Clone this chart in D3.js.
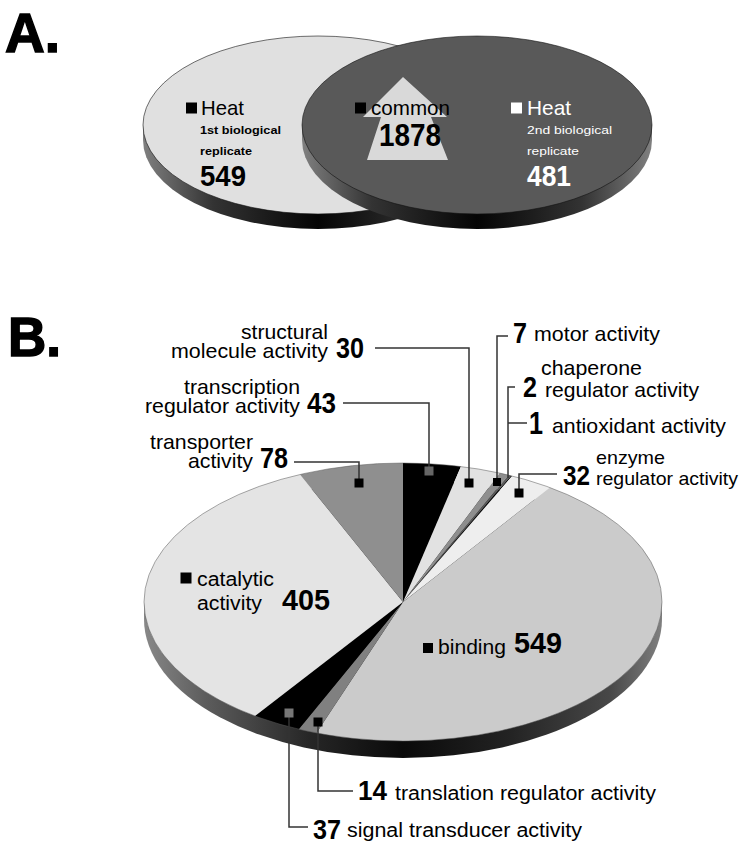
<!DOCTYPE html>
<html><head><meta charset="utf-8">
<script src="https://cdn.jsdelivr.net/npm/d3@7/dist/d3.min.js"></script>
<style>html,body{margin:0;background:#fff}svg{display:block}text{font-family:"Liberation Sans",Arial,sans-serif}</style>
</head><body><svg id="c" width="747" height="853" viewBox="0 0 747 853"></svg>
<script>
// ---- data ----
const vennSets = ["Heat", "common", "Heat"];
const vennSubtitles = ["1st biological replicate", "", "2nd biological replicate"];
const vennCounts = [549, 1878, 481];
const categories = ["transcription regulator activity","structural molecule activity","motor activity","chaperone regulator activity","antioxidant activity","enzyme regulator activity","binding","translation regulator activity","signal transducer activity","catalytic activity","transporter activity"];
const counts = [43,30,7,2,1,32,549,14,37,405,78];
const shades = ["#000000","#e2e2e2","#8e8e8e","#5a5a5a","#000000","#eeeeee","#cbcbcb","#808080","#000000","#e4e4e4","#8f8f8f"];
const countOf = Object.fromEntries(categories.map((c,i)=>[c,counts[i]]));

const svg = d3.select("#c");
const defs = svg.append("defs");
function wallGradient(id, stops){
  const g = defs.append("linearGradient").attr("id",id);
  stops.forEach(([o,c])=>g.append("stop").attr("offset",o).attr("stop-color",c));
}
wallGradient("pieWall",[[0,"#888888"],[.12,"#5c5c5c"],[.32,"#262626"],[.5,"#0a0a0a"],[.7,"#222222"],[.9,"#484848"],[1,"#808080"]]);
wallGradient("vennWall",[[0,"#808080"],[.2,"#333333"],[.5,"#050505"],[.8,"#333333"],[1,"#808080"]]);

function t(x,y,str,size,opt={}){
  const n = svg.append("text").attr("x",x).attr("y",y).attr("font-size",size).text(str)
    .attr("fill",opt.fill||"#000").attr("font-weight",opt.bold?700:400);
  if(opt.w) n.attr("textLength",opt.w).attr("lengthAdjust","spacingAndGlyphs");
  return n;
}
function sq(cx,cy,s,fill){
  svg.append("rect").attr("x",cx-s/2).attr("y",cy-s/2).attr("width",s).attr("height",s).attr("fill",fill);
}

// ---- panel letters ----
t(5,52,"A.",56,{bold:true,w:55}).attr("stroke","#000").attr("stroke-width",1.5);
t(8,356,"B.",56,{bold:true,w:53}).attr("stroke","#000").attr("stroke-width",1.5);

// ---- venn ----
const vennRx=175, vennRy=89, vennDepth=15, vennCy=125;
const vennX = d3.scalePoint().domain([0,1]).range([318,477]);
[[0,"#e0e0e0"],[1,"#595959"]].forEach(([i,fill])=>{
  svg.append("ellipse").attr("cx",vennX(i)).attr("cy",vennCy+vennDepth).attr("rx",vennRx).attr("ry",vennRy).attr("fill","url(#vennWall)");
  svg.append("rect").attr("x",vennX(i)-vennRx).attr("y",vennCy).attr("width",vennRx*2).attr("height",vennDepth).attr("fill","url(#vennWall)");
  svg.append("ellipse").attr("cx",vennX(i)).attr("cy",vennCy).attr("rx",vennRx).attr("ry",vennRy).attr("fill",fill).attr("stroke","#111").attr("stroke-width",.6);
});
svg.append("path").attr("d",d3.line()([[403,77],[447,117],[431,117],[448,160],[367,160],[381,117],[363,117]])+"Z").attr("fill","#d9d9d9");

sq(191.5,108,11,"#000"); t(201,115,vennSets[0],21,{w:43});
const [s1a,s1b]=[vennSubtitles[0].slice(0,14),vennSubtitles[0].slice(15)];
t(200,134,s1a,11.5,{bold:true,w:81}); t(200,155,s1b,11.5,{bold:true,w:52});
t(200,186,vennCounts[0],29,{bold:true,w:46});
sq(360.5,108,11,"#000"); t(371,115,vennSets[1],21,{w:79});
t(379,146,vennCounts[1],31,{bold:true,w:62});
sq(516.5,108,11,"#fff"); t(527,115,vennSets[2],21,{fill:"#fff",w:44});
const [s2a,s2b]=[vennSubtitles[2].slice(0,14),vennSubtitles[2].slice(15)];
t(527,134,s2a,11.5,{fill:"#fff",w:85}); t(527,155,s2b,11.5,{fill:"#fff",w:52});
t(527,186,vennCounts[2],29,{fill:"#fff",bold:true,w:44});

// ---- pie ----
const cx=403, cy=602, rx=259, ry=139, depth=17;
const pie = d3.pie().sort(null).value(d=>d)(counts);
const arc = d3.arc().innerRadius(0).outerRadius(rx);
svg.append("ellipse").attr("cx",cx).attr("cy",cy+depth).attr("rx",rx).attr("ry",ry).attr("fill","url(#pieWall)");
svg.append("rect").attr("x",cx-rx).attr("y",cy).attr("width",rx*2).attr("height",depth).attr("fill","url(#pieWall)");
svg.append("g").attr("transform",`translate(${cx},${cy}) scale(1,${ry/rx})`)
  .selectAll("path").data(pie).join("path").attr("d",arc).attr("fill",(d,i)=>shades[i]);
svg.append("ellipse").attr("cx",cx).attr("cy",cy).attr("rx",rx).attr("ry",ry).attr("fill","none").attr("stroke","#555").attr("stroke-width",.5);

// ---- leaders & markers ----
const leaders = [
  {c:"structural molecule activity", m:[469,483], path:[[375,348],[469,348],[469,483]]},
  {c:"transcription regulator activity", m:[429,471], mf:"#666", path:[[343,403],[429,403],[429,471]]},
  {c:"transporter activity", m:[359,483], path:[[294,462],[359,462],[359,483]]},
  {c:"motor activity", m:[497,482], s:8, path:[[508,336],[497,336],[497,482]]},
  {c:"chaperone regulator activity", path:[[515,387],[508,387],[508,478]]},
  {c:"antioxidant activity", path:[[527,423],[508,423]]},
  {c:"enzyme regulator activity", m:[519,493], path:[[557,474],[519,474],[519,493]]},
  {c:"translation regulator activity", m:[318,722], path:[[353,791],[318,791],[318,722]]},
  {c:"signal transducer activity", m:[289,713], mf:"#777", path:[[308,827],[289,827],[289,713]]},
];
leaders.forEach(l=>{
  svg.append("path").attr("d",d3.line()(l.path)).attr("fill","none").attr("stroke","#333").attr("stroke-width",1.5);
  if(l.m) sq(l.m[0],l.m[1],l.s||9,l.mf||"#000");
});
sq(186,578,11,"#000"); sq(428,648,10,"#000");

// ---- pie labels ----
const N = 21, B = 29;
t(241,339,"structural",N,{w:87}); t(171,358,"molecule activity",N,{w:157}); t(336,358,countOf["structural molecule activity"],B,{bold:true,w:28});
t(184,394,"transcription",N,{w:116}); t(145,413,"regulator activity",N,{w:155}); t(307,413,countOf["transcription regulator activity"],B,{bold:true,w:29});
t(150,449,"transporter",N,{w:103}); t(188,468,"activity",N,{w:65}); t(260,468,countOf["transporter activity"],B,{bold:true,w:28});
t(513,343,countOf["motor activity"],B,{bold:true,w:14}); t(534,341,"motor activity",N,{w:126});
t(541,375,"chaperone",N,{w:101}); t(523,397,countOf["chaperone regulator activity"],B,{bold:true,w:14}); t(545,397,"regulator activity",N,{w:154});
t(529,434,countOf["antioxidant activity"],B+2,{bold:true,w:14}); t(552,433,"antioxidant activity",N,{w:174});
t(596,464,"enzyme",19,{w:69}); t(563,485,countOf["enzyme regulator activity"],B-1,{bold:true,w:27}); t(596,485,"regulator activity",19,{w:142});
t(197,586,"catalytic",20,{w:77}); t(197,610,"activity",20,{w:65}); t(282,610,countOf["catalytic activity"],B,{bold:true,w:48});
t(438,654,"binding",20,{w:68}); t(514,653,countOf["binding"],B,{bold:true,w:48});
t(358,800,countOf["translation regulator activity"],B-2,{bold:true,w:29}); t(395,800,"translation regulator activity",20,{w:261});
t(313,839,countOf["signal transducer activity"],B-2,{bold:true,w:28}); t(347,837,"signal transducer activity",20,{w:235});
</script></body></html>
